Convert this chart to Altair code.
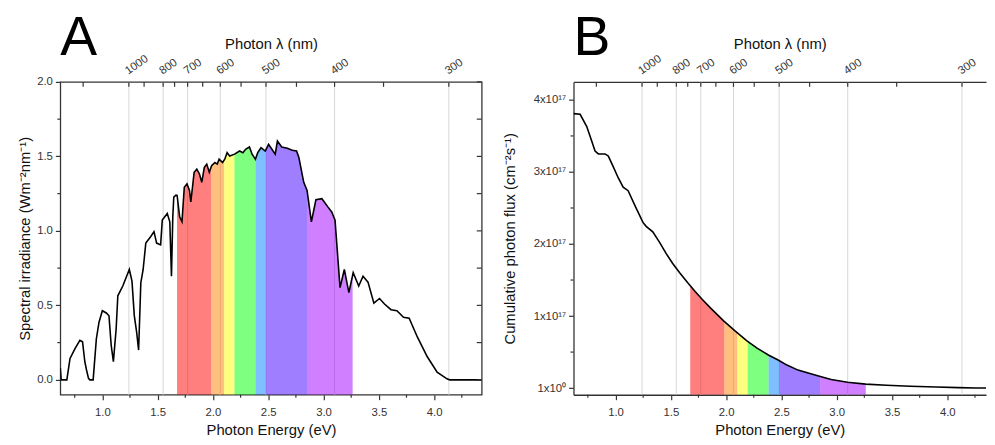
import altair as alt
import numpy as np
import pandas as pd

HC = 1239.84
FONT = "Liberation Sans"

# ---------------- Panel A: spectral irradiance (W m^-2 nm^-1) ----------------
a_energy = [0.620, 0.628, 0.679, 0.708, 0.753, 0.797, 0.821, 0.842, 0.857, 0.875, 0.887, 0.917,
            0.946, 0.970, 1.000, 1.036, 1.060, 1.080, 1.100, 1.125, 1.140, 1.185, 1.244, 1.268,
            1.289, 1.310, 1.328, 1.348, 1.369, 1.393, 1.438, 1.467, 1.491, 1.527, 1.542, 1.587,
            1.610, 1.625, 1.637, 1.646, 1.665, 1.676, 1.699, 1.720, 1.741, 1.765, 1.788, 1.800,
            1.830, 1.854, 1.878, 1.899, 1.922, 1.944, 1.967, 1.988, 2.018, 2.039, 2.056, 2.087,
            2.107, 2.128, 2.152, 2.196, 2.241, 2.271, 2.295, 2.330, 2.354, 2.384, 2.405, 2.435,
            2.473, 2.503, 2.533, 2.563, 2.583, 2.622, 2.672, 2.717, 2.756, 2.777, 2.821, 2.851,
            2.890, 2.931, 2.985, 3.039, 3.074, 3.104, 3.149, 3.188, 3.229, 3.268, 3.318, 3.357,
            3.402, 3.455, 3.506, 3.551, 3.610, 3.663, 3.723, 3.774, 3.848, 3.938, 4.027, 4.116,
            4.140, 4.430]
a_irr = [0.080, 0.000, 0.000, 0.144, 0.210, 0.265, 0.255, 0.120, 0.066, 0.010, 0.000, 0.000,
         0.276, 0.387, 0.464, 0.449, 0.430, 0.232, 0.122, 0.343, 0.564, 0.630, 0.741, 0.663,
         0.431, 0.321, 0.200, 0.652, 0.741, 0.918, 0.962, 0.995, 0.918, 0.906, 1.072, 1.117,
         1.061, 0.696, 1.094, 1.227, 1.240, 1.238, 1.094, 1.061, 1.293, 1.316, 1.271, 1.194,
         1.393, 1.415, 1.382, 1.326, 1.426, 1.448, 1.393, 1.437, 1.459, 1.448, 1.481, 1.459,
         1.481, 1.525, 1.503, 1.515, 1.536, 1.525, 1.548, 1.563, 1.515, 1.481, 1.525, 1.558,
         1.536, 1.581, 1.548, 1.515, 1.603, 1.563, 1.554, 1.541, 1.536, 1.492, 1.326, 1.271,
         1.061, 1.209, 1.216, 1.161, 1.127, 1.072, 0.619, 0.741, 0.586, 0.719, 0.630, 0.696,
         0.656, 0.515, 0.546, 0.509, 0.471, 0.464, 0.420, 0.414, 0.288, 0.155, 0.051, 0.007,
         0.000, 0.000]

# ---------------- Panel B: cumulative photon flux (units of 1e17 cm^-2 s^-1) ----------------
b_energy = [0.620, 0.680, 0.740, 0.780, 0.815, 0.845, 0.905, 0.935, 0.980, 1.024, 1.069, 1.114,
            1.180, 1.248, 1.277, 1.337, 1.400, 1.457, 1.517, 1.580, 1.651, 1.720, 1.785, 1.860,
            1.934, 1.980, 2.083, 2.188, 2.280, 2.382, 2.470, 2.550, 2.650, 2.750, 2.844, 2.950,
            3.098, 3.262, 3.450, 3.665, 3.900, 4.100, 4.260, 4.430]
b_flux = [3.81, 3.80, 3.63, 3.45, 3.29, 3.25, 3.25, 3.22, 3.07, 2.92, 2.79, 2.74,
          2.52, 2.30, 2.245, 2.17, 2.02, 1.87, 1.73, 1.60, 1.465, 1.34, 1.23, 1.11,
          1.00, 0.93, 0.79, 0.655, 0.555, 0.46, 0.39, 0.32, 0.25, 0.205, 0.165, 0.12,
          0.082, 0.055, 0.040, 0.027, 0.015, 0.007, 0.002, 0.000]

# visible colour bands (nm boundaries) and colours
band_nm = [740, 625, 590, 565, 520, 500, 435, 380]
band_names = ["red", "orange", "yellow", "green", "cyan", "blue", "violet"]
band_colors = ["#ff0000", "#ff8000", "#ffff00", "#00ff00", "#0080ff", "#4000ff", "#a000ff"]

# wavelength axis (top)
wl_major = [1000, 800, 700, 600, 500, 400, 300]
wl_minor = [1500, 900, 750, 650, 550, 450, 350]

# energy axis ticks (bottom)
x_major = [1.0, 1.5, 2.0, 2.5, 3.0, 3.5, 4.0]
x_minor = [0.75, 1.25, 1.75, 2.25, 2.75, 3.25, 3.75, 4.25]
ya_major = [0.0, 0.5, 1.0, 1.5, 2.0]
ya_minor = [0.25, 0.75, 1.25, 1.75]
yb_major = [0.0, 1.0, 2.0, 3.0, 4.0]
yb_minor = [0.5, 1.5, 2.5, 3.5]

WA, WB, H = 427, 418, 317
TICK = "#333333"


def band_frame(E, V):
    rows = []
    for i, name in enumerate(band_names):
        e0, e1 = HC / band_nm[i], HC / band_nm[i + 1]
        xs = [e0] + [e for e in E if e0 < e < e1] + [e1]
        ys = np.interp(xs, E, V)
        rows += [{"E": x, "v": float(y), "band": name} for x, y in zip(xs, ys)]
    return pd.DataFrame(rows)


grid_df = pd.DataFrame({"E": [HC / w for w in wl_major]})
toptick_df = pd.DataFrame({"E": [HC / w for w in wl_major + wl_minor]})


def panel(E, V, xdom, ydom, width, y_major, y_minor, y_label_expr, y_title, y_title_pad,
          letter, boxed):
    xs = alt.Scale(domain=xdom, nice=False, zero=False)
    ys = alt.Scale(domain=ydom, nice=False, zero=False)
    df = pd.DataFrame({"E": E, "v": V})
    bands = band_frame(E, V)

    x_bottom = alt.Axis(orient="bottom", values=x_major, format=".1f", tickSize=5,
                        labelPadding=7, labelFlush=False, domain=not boxed,
                        grid=False, title="Photon Energy (eV)", titlePadding=5)
    y_left = alt.Axis(orient="left", values=y_major, labelExpr=y_label_expr, tickSize=5,
                      labelPadding=3, domain=not boxed,
                      grid=False, title=y_title, titlePadding=y_title_pad)
    x_top = alt.Axis(orient="top", values=list(grid_df["E"]),
                     labelExpr="format(round(1239.84/datum.value), 'd')",
                     labelAngle=325, labelAlign="left", labelBaseline="bottom",
                     labelPadding=6, ticks=False, domain=not boxed, grid=False,
                     labelOverlap=False, labelFlush=False,
                     title="Photon λ (nm)", titlePadding=1)

    def Y():
        return alt.Y("v:Q", scale=ys, axis=y_left, stack=None)

    grid = alt.Chart(grid_df).mark_rule(color="#d6d6d6", strokeWidth=1).encode(
        x=alt.X("E:Q", scale=xs, axis=x_top))
    areas = alt.Chart(bands).mark_area(opacity=0.5, clip=True).encode(
        x=alt.X("E:Q", scale=xs, axis=None),
        y=Y(),
        y2=alt.value(H),
        color=alt.Color("band:N", scale=alt.Scale(domain=band_names, range=band_colors), legend=None))
    line = alt.Chart(df).mark_line(color="black", strokeWidth=1.6, clip=True).encode(
        x=alt.X("E:Q", scale=xs, axis=x_bottom),
        y=Y())
    topticks = alt.Chart(toptick_df).mark_rule(color=TICK, strokeWidth=1.2).encode(
        x=alt.X("E:Q", scale=xs, axis=None), y=alt.value(0), y2=alt.value(5))
    bminor = alt.Chart(pd.DataFrame({"E": x_minor})).mark_rule(color=TICK, strokeWidth=1.2).encode(
        x=alt.X("E:Q", scale=xs, axis=None), y=alt.value(H), y2=alt.value(H + 3))
    lminor = alt.Chart(pd.DataFrame({"v": y_minor})).mark_rule(color=TICK, strokeWidth=1.2).encode(
        y=Y(), x=alt.value(-3), x2=alt.value(0))
    letter_mark = alt.Chart(pd.DataFrame({"t": [letter]})).mark_text(
        font=FONT, fontSize=56, align="left", baseline="alphabetic", color="black").encode(
        text="t:N", x=alt.value(0), y=alt.value(-27))
    layers = [grid, areas, line, topticks, bminor, lminor, letter_mark]
    if boxed:
        rt = alt.Chart(pd.DataFrame({"v": y_major + y_minor})).mark_rule(color=TICK, strokeWidth=1.2).encode(
            y=Y(), x=alt.value(width - 5), x2=alt.value(width))
        layers.append(rt)
    view = alt.ViewBackground(stroke="#333333", strokeWidth=1.3) if boxed else alt.ViewBackground(stroke="transparent")
    return alt.layer(*layers).resolve_axis(x="independent").properties(
        width=width, height=H, view=view)


pA = panel(a_energy, a_irr, [0.62, 4.43], [-0.1, 2.0], WA, ya_major, ya_minor,
           "format(datum.value, '.1f')",
           "Spectral irradiance (Wm⁻²nm⁻¹)", 4, "A", True)
pB = panel(b_energy, b_flux, [0.62, 4.35], [-0.092, 4.25], WB, yb_major, yb_minor,
           "datum.value === 0 ? '1x10⁰' : format(datum.value, 'd') + 'x10¹⁷'",
           "Cumulative photon flux (cm⁻²s⁻¹)", 16, "B", False)

chart = alt.hconcat(pA, pB, spacing=18).properties(
    padding={"left": 9, "top": -1, "right": 0, "bottom": 0}
).configure_axis(
    labelFont=FONT, titleFont=FONT, labelFontSize=11.5, titleFontSize=15,
    titleFontWeight="normal", labelColor="#333333", titleColor="#111111",
    domainColor="#333333", tickColor="#333333", domainWidth=1.3, tickWidth=1.2
).configure_view(stroke="#333333", strokeWidth=1.3)

chart.save("out.html", embed_options={"renderer": "svg", "actions": False})
